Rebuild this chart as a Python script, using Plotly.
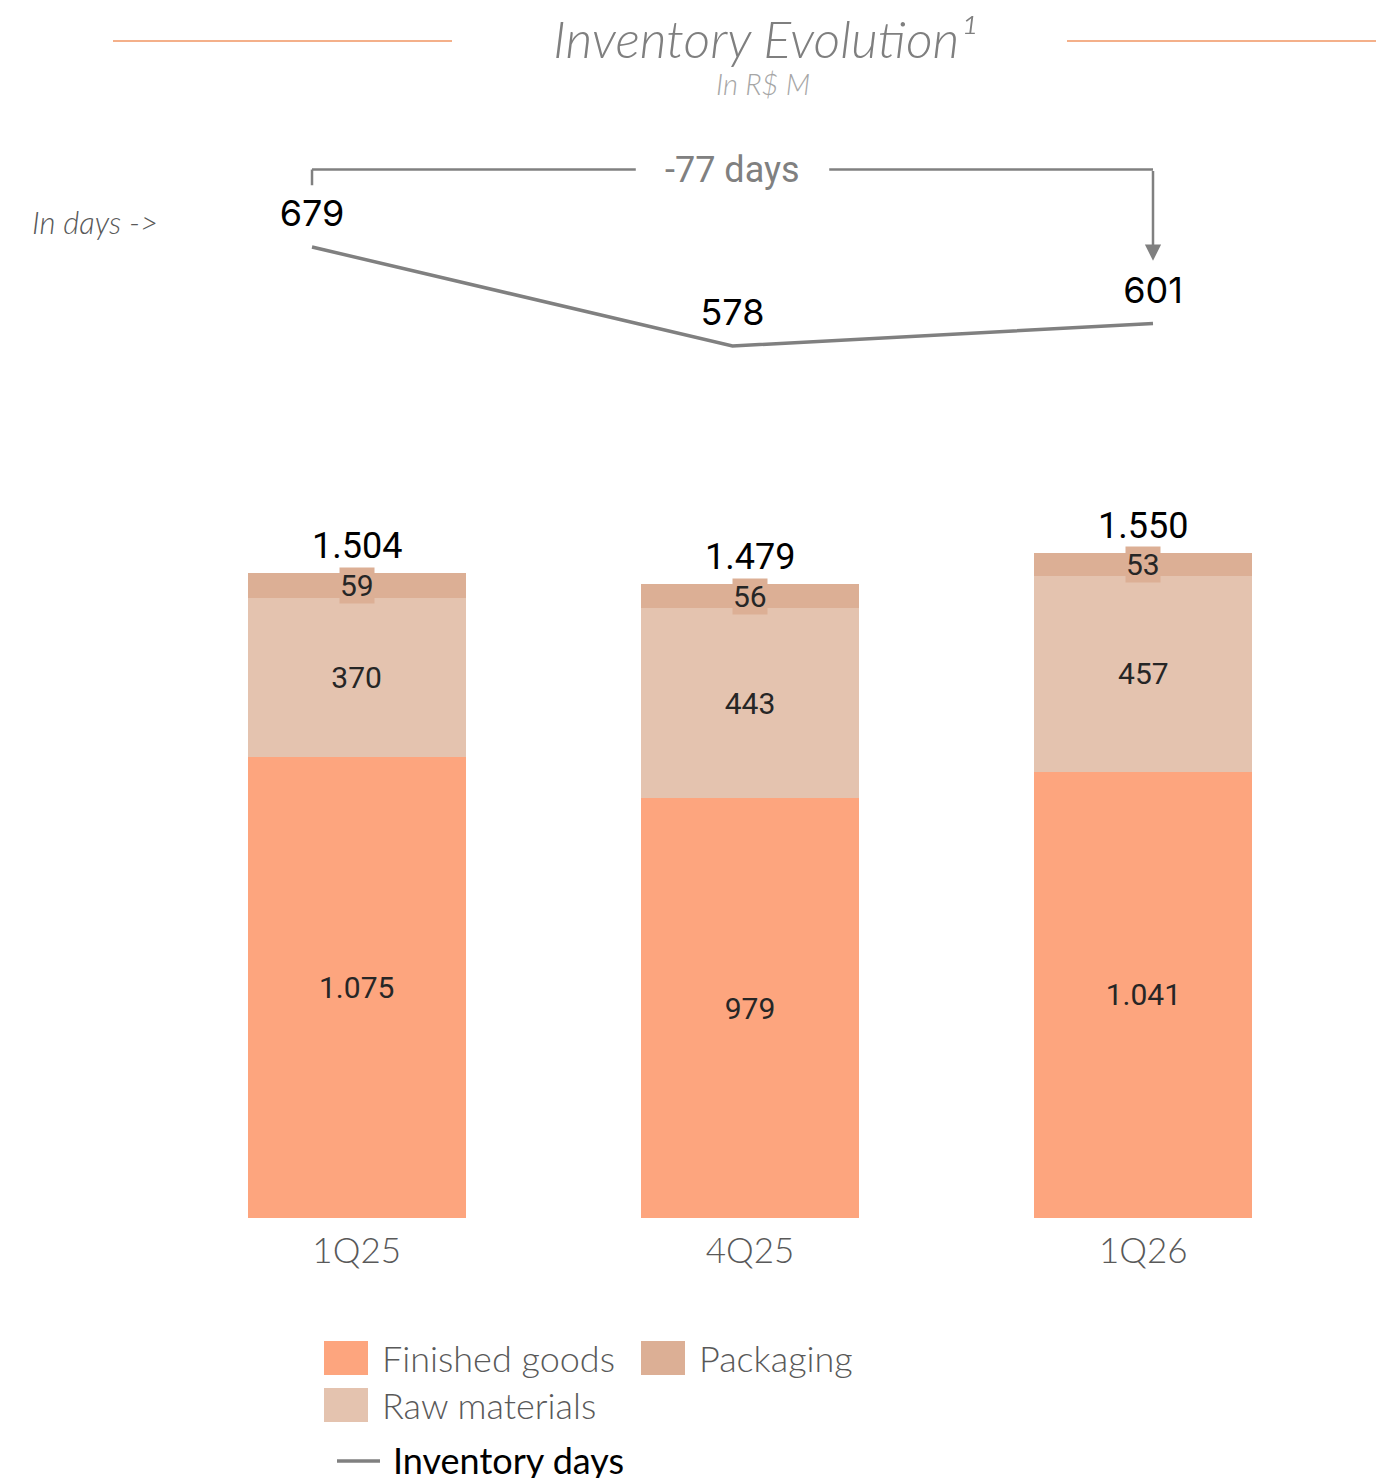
import plotly.graph_objects as go

# Quarterly inventory breakdown (R$ M) and inventory days
quarters = ["1Q25", "4Q25", "1Q26"]
finished_goods = [1075, 979, 1041]
raw_materials = [370, 443, 457]
packaging = [59, 56, 53]
totals = [1504, 1479, 1550]
inventory_days = [679, 578, 601]
days_change_label = "-77 days"

C_FINISHED = "#FDA57E"
C_RAW = "#E4C3AF"
C_PACK = "#DCAF95"
C_LINE = "#808080"
GREY_TXT = "#595959"

W, H = 1376, 1478
ML, MR, MT, MB = 160, 36, 110, 260
PW, PH = W - ML - MR, H - MT - MB


def pxx(p):
    return (p - ML) / PW


def pxy(p):
    return (H - MB - p) / PH


LIGHT = dict(family="Lato", weight=300)

fig = go.Figure()

fig.add_trace(go.Bar(
    x=quarters, y=finished_goods, name="Finished goods",
    marker=dict(color=C_FINISHED, line=dict(width=0)),
    text=finished_goods, texttemplate="%{y:,}", textposition="inside",
    insidetextanchor="middle", textangle=0,
    textfont=dict(family="Roboto", size=30, color="#262626"),
    showlegend=False,
))
fig.add_trace(go.Bar(
    x=quarters, y=raw_materials, name="Raw materials",
    marker=dict(color=C_RAW, line=dict(width=0)),
    text=raw_materials, texttemplate="%{y:,}", textposition="inside",
    insidetextanchor="middle", textangle=0,
    textfont=dict(family="Roboto", size=30, color="#262626"),
    showlegend=False,
))
fig.add_trace(go.Bar(
    x=quarters, y=packaging, name="Packaging",
    marker=dict(color=C_PACK, line=dict(width=0)),
    showlegend=False,
))

# Inventory days line on its own axes (transparent markers push labels up)
fig.add_trace(go.Scatter(
    x=[0, 1, 2], y=inventory_days, mode="lines+markers+text",
    xaxis="x2", yaxis="y2",
    line=dict(color=C_LINE, width=3.5),
    marker=dict(size=17, color="rgba(0,0,0,0)"),
    text=[str(d) for d in inventory_days], textposition="top center",
    textfont=dict(family="Inter", size=36, color="#000000"),
    showlegend=False, cliponaxis=False,
))

annotations = []
shapes = []

# Packaging labels (boxed) and totals
for i, q in enumerate(quarters):
    base = finished_goods[i] + raw_materials[i]
    annotations.append(dict(
        x=q, y=base + packaging[i] / 2, xref="x", yref="y",
        text=str(packaging[i]), showarrow=False,
        font=dict(family="Roboto", size=30, color="#262626"),
        bgcolor=C_PACK, borderpad=0,
    ))
    annotations.append(dict(
        x=q, y=totals[i], xref="x", yref="y", yanchor="bottom",
        text=f"{totals[i]:,}".replace(",", "."), showarrow=False,
        font=dict(family="Roboto", size=36, color="#000000"), yshift=4,
    ))

# Bracket showing change in inventory days
top = max(inventory_days) + 79
shapes += [
    dict(type="line", xref="x2", yref="y2", x0=0, x1=0,
         y0=inventory_days[0] + 63, y1=top, line=dict(color=C_LINE, width=2.5)),
    dict(type="line", xref="x2", yref="y2", x0=0, x1=0.77,
         y0=top, y1=top, line=dict(color=C_LINE, width=2.5)),
    dict(type="line", xref="x2", yref="y2", x0=1.23, x1=2,
         y0=top, y1=top, line=dict(color=C_LINE, width=2.5)),
]
annotations.append(dict(
    x=2, y=inventory_days[2] + 64, xref="x2", yref="y2",
    ax=2, ay=top, axref="x2", ayref="y2", text="", showarrow=True,
    arrowhead=2, arrowsize=1.3, arrowwidth=2.5, arrowcolor=C_LINE,
))
annotations.append(dict(
    x=1, y=top, xref="x2", yref="y2", text=days_change_label, showarrow=False,
    font=dict(family="Roboto", size=36, color=C_LINE),
))


def paper_text(x, y, text, font, xanchor="center"):
    annotations.append(dict(
        x=pxx(x), y=pxy(y), xref="paper", yref="paper", showarrow=False,
        xanchor=xanchor, yanchor="middle", text=text, font=font,
    ))


# Title block
paper_text(765, 38, "Inventory Evolution¹",
           dict(size=52, color="#7F7F7F", style="italic", **LIGHT))
paper_text(763, 83, "In R$ M",
           dict(size=29, color="#A6A6A6", style="italic", **LIGHT))
for x0, x1 in [(113, 452), (1067, 1376)]:
    shapes.append(dict(type="line", xref="paper", yref="paper",
                       x0=pxx(x0), x1=pxx(x1), y0=pxy(41), y1=pxy(41),
                       line=dict(color="#F4B08A", width=2)))

paper_text(30, 222, "In days ->",
           dict(size=31, color=GREY_TXT, style="italic", **LIGHT), xanchor="left")

# Legend drawn by hand
legend_items = [
    ("Finished goods", C_FINISHED, 324, 1358),
    ("Packaging", C_PACK, 641, 1358),
    ("Raw materials", C_RAW, 324, 1405),
]
for label, color, lx, ly in legend_items:
    shapes.append(dict(type="rect", xref="paper", yref="paper",
                       x0=pxx(lx), x1=pxx(lx + 44), y0=pxy(ly - 17), y1=pxy(ly + 17),
                       fillcolor=color, line=dict(width=0)))
    paper_text(lx + 56, ly, label, dict(size=36, color=GREY_TXT, **LIGHT),
               xanchor="left")
shapes.append(dict(type="line", xref="paper", yref="paper",
                   x0=pxx(337), x1=pxx(380), y0=pxy(1461), y1=pxy(1461),
                   line=dict(color=C_LINE, width=3.5)))
paper_text(391, 1460, "Inventory days",
           dict(family="Lato", size=36, color="#000000"), xanchor="left")

px_per_unit = 645 / 1504
px_per_day = 99 / 101
y2_top = inventory_days[0] + (247 - MT) / px_per_day
y2_bot = inventory_days[0] - (H - MB - 247) / px_per_day

fig.update_layout(
    width=W, height=H, autosize=False,
    margin=dict(l=ML, r=MR, t=MT, b=MB, pad=0),
    paper_bgcolor="white", plot_bgcolor="white",
    barmode="stack", bargap=0.445,
    separators=",.",
    showlegend=False,
    xaxis=dict(range=[-0.5, 2.5], showgrid=False, zeroline=False, showline=False,
               ticks="", ticklabelstandoff=9,
               tickfont=dict(size=35, color=GREY_TXT, **LIGHT)),
    yaxis=dict(range=[0, PH / px_per_unit], visible=False),
    xaxis2=dict(overlaying="x", range=[-0.3615, 2.4447], visible=False),
    yaxis2=dict(overlaying="y", range=[y2_bot, y2_top], visible=False),
    shapes=shapes, annotations=annotations,
)

fig.write_html("out.html")
